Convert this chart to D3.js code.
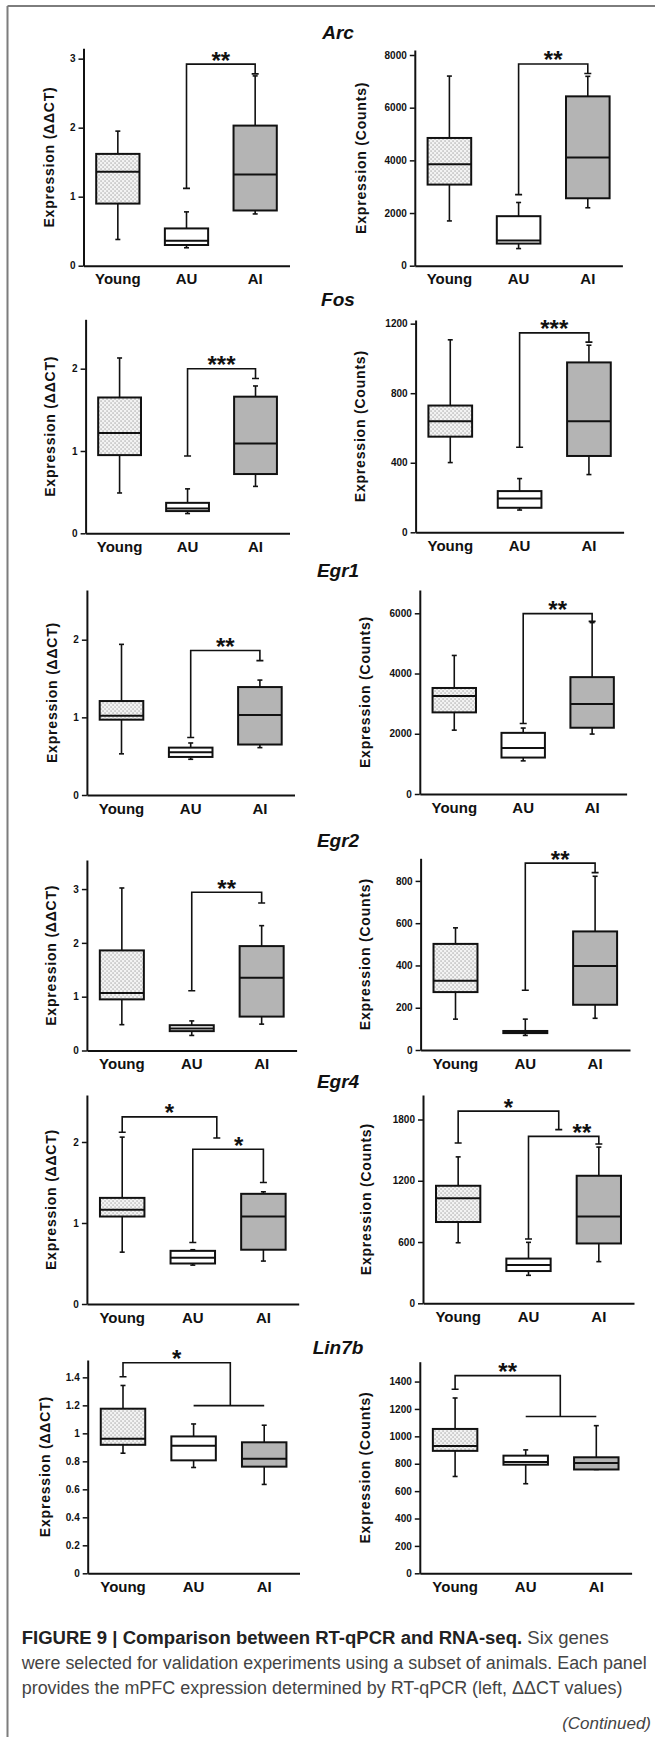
<!DOCTYPE html>
<html>
<head>
<meta charset="utf-8">

<!-- Load d3.js -->
<script src="https://d3js.org/d3.v7.min.js"></script>

<style>
body { margin: 0; background: #fff; }
text { font-family: "Liberation Sans", Arial, sans-serif; fill: #111; }
.tick text { font-size: 10px; font-weight: bold; }
.cat .tick text { font-size: 15px; }
</style>
</head>

<body>
<div id="fig"></div>
<script>

var groups = ["Young", "AU", "AI"];
var genes = ["Arc", "Fos", "Egr1", "Egr2", "Egr4", "Lin7b"];

// box values per group: [low whisker, q1, median, q3, high whisker]
var arcQpcr    = [[0.38, 0.90, 1.36, 1.62, 1.95], [0.26, 0.30, 0.36, 0.54, 0.78], [0.75, 0.80, 1.32, 2.03, 2.75]];
var arcCounts  = [[1700, 3080, 3850, 4850, 7200], [650, 840, 960, 1880, 2400], [2200, 2560, 4110, 6430, 7190]];
var fosQpcr    = [[0.49, 0.95, 1.22, 1.65, 2.13], [0.24, 0.27, 0.30, 0.37, 0.54], [0.57, 0.72, 1.09, 1.66, 1.79]];
var fosCounts  = [[401, 550, 639, 729, 1107], [128, 141, 195, 237, 309], [332, 439, 639, 977, 1076]];
var egr1Qpcr   = [[0.53, 0.97, 1.02, 1.21, 1.94], [0.46, 0.49, 0.55, 0.61, 0.67], [0.61, 0.65, 1.03, 1.39, 1.48]];
var egr1Counts = [[2120, 2710, 3255, 3520, 4600], [1100, 1210, 1530, 2030, 2190], [1990, 2200, 2990, 3880, 5690]];
var egr2Qpcr   = [[0.48, 0.95, 1.07, 1.86, 3.02], [0.28, 0.36, 0.41, 0.47, 0.55], [0.49, 0.63, 1.35, 1.94, 2.32]];
var egr2Counts = [[146, 274, 328, 502, 578], [69, 80, 85, 90, 146], [150, 214, 397, 561, 822]];
var egr4Qpcr   = [[0.64, 1.08, 1.165, 1.31, 2.06], [0.48, 0.50, 0.57, 0.656, 0.67], [0.53, 0.67, 1.08, 1.36, 1.385]];
var egr4Counts = [[593, 796, 1029, 1151, 1434], [274, 316, 376, 438, 597], [408, 586, 850, 1249, 1530]];
var lin7bQpcr  = [[0.858, 0.918, 0.962, 1.176, 1.342], [0.756, 0.807, 0.911, 0.978, 1.067], [0.635, 0.762, 0.818, 0.936, 1.058]];
var lin7bCounts= [[707, 894, 929, 1054, 1280], [654, 793, 812, 859, 901], [758, 758, 805, 847, 1078]];

// axis ticks and top of each axis
var qpcrTicks  = [[0, 1, 2, 3], [0, 1, 2], [0, 1, 2], [0, 1, 2, 3], [0, 1, 2], [0, 0.2, 0.4, 0.6, 0.8, 1, 1.2, 1.4]];
var countTicks = [[0, 2000, 4000, 6000, 8000], [0, 400, 800, 1200], [0, 2000, 4000, 6000], [0, 200, 400, 600, 800], [0, 600, 1200, 1800], [0, 200, 400, 600, 800, 1000, 1200, 1400]];
var qpcrMax  = [3.15, 2.6, 2.64, 3.54, 2.58, 1.524];
var countMax = [8190, 1221, 6773, 907, 2040, 1545];

// significance brackets (a, b = group index, ends and top in data units)
var arcQpcrSig   = [{a: 1, b: 2, top: 2.92, endA: 1.12, endB: 2.78, text: "**"}];
var arcCountSig  = [{a: 1, b: 2, top: 7660, endA: 2700, endB: 7300, text: "**"}];
var fosQpcrSig   = [{a: 1, b: 2, top: 2.0, endA: 0.94, endB: 1.88, text: "***"}];
var fosCountSig  = [{a: 1, b: 2, top: 1147, endA: 489, endB: 1094, text: "***"}];
var egr1QpcrSig  = [{a: 1, b: 2, top: 1.86, endA: 0.74, endB: 1.73, text: "**"}];
var egr1CountSig = [{a: 1, b: 2, top: 5990, endA: 2340, endB: 5730, text: "**"}];
var egr2QpcrSig  = [{a: 1, b: 2, top: 2.94, endA: 1.11, endB: 2.74, text: "**"}];
var egr2CountSig = [{a: 1, b: 2, top: 884, endA: 283, endB: 839, text: "**"}];
var egr4QpcrSig  = [{a: 0, b: 1.34, top: 2.31, endA: 2.12, endB: 2.05, text: "*"},
                    {a: 1, b: 2, top: 1.91, endA: 0.76, endB: 1.50, text: "*", at: 1.65}];
var egr4CountSig = [{a: 0, b: 1.43, top: 1882, endA: 1570, endB: 1701, text: "*"},
                    {a: 1, b: 2, top: 1635, endA: 630, endB: 1560, text: "**", at: 1.76}];
var lin7bQpcrSig  = [{a: 0, b: 1.52, top: 1.504, endA: 1.404, bar: 1.198, text: "*"}];
var lin7bCountSig = [{a: 0, b: 1.49, top: 1443, endA: 1344, bar: 1145, text: "**"}];

var qpcrBoxes  = [arcQpcr, fosQpcr, egr1Qpcr, egr2Qpcr, egr4Qpcr, lin7bQpcr];
var countBoxes = [arcCounts, fosCounts, egr1Counts, egr2Counts, egr4Counts, lin7bCounts];
var qpcrSig  = [arcQpcrSig, fosQpcrSig, egr1QpcrSig, egr2QpcrSig, egr4QpcrSig, lin7bQpcrSig];
var countSig = [arcCountSig, fosCountSig, egr1CountSig, egr2CountSig, egr4CountSig, lin7bCountSig];

var captionLines = [
  "were selected for validation experiments using a subset of animals. Each panel",
  "provides the mPFC expression determined by RT-qPCR (left, \u0394\u0394CT values)"
];

// panel frames on the page
var rows = [
  {title: 39,   left: {x0: 83.5, x1: 289.5, top: 48.3, bottom: 265.7, lab: 34.5}, right: {x0: 414.8, x1: 622.4, top: 50, bottom: 265.7, lab: 54}},
  {title: 306,  left: {x0: 85.6, x1: 289.5, top: 319.3, bottom: 533.3, lab: 36}, right: {x0: 415.6, x1: 623.6, top: 320, bottom: 532.3, lab: 55.5}},
  {title: 577,  left: {x0: 86.9, x1: 294.5, top: 590, bottom: 795, lab: 35}, right: {x0: 419.8, x1: 626.6, top: 590, bottom: 794, lab: 54.5}},
  {title: 846.7,left: {x0: 86.9, x1: 296.6, top: 860, bottom: 1050.5, lab: 36}, right: {x0: 420.6, x1: 630, top: 858.3, bottom: 1050, lab: 56}},
  {title: 1088, left: {x0: 86.9, x1: 298.7, top: 1095, bottom: 1304, lab: 36}, right: {x0: 423, x1: 634, top: 1095, bottom: 1303.3, lab: 57}},
  {title: 1354, left: {x0: 87.7, x1: 299.5, top: 1360, bottom: 1573.3, lab: 43}, right: {x0: 419.8, x1: 631.6, top: 1361.7, bottom: 1573.3, lab: 54.5}}
];

var fills = ["url(#dots)", "#ffffff", "#b4b4b4"];

var svg = d3.select("#fig")
  .append("svg")
    .attr("width", 655)
    .attr("height", 1737);

// stipple fill for Young
var pat = svg.append("defs").append("pattern")
  .attr("id", "dots")
  .attr("patternUnits", "userSpaceOnUse")
  .attr("width", 4)
  .attr("height", 4);
pat.append("rect").attr("width", 4).attr("height", 4).attr("fill", "#f3f3f3");
pat.append("rect").attr("x", 0.5).attr("y", 0.5).attr("width", 1.1).attr("height", 1.1).attr("fill", "#8a8a8a");
pat.append("rect").attr("x", 2.5).attr("y", 2.5).attr("width", 1.1).attr("height", 1.1).attr("fill", "#8a8a8a");

// page frame
svg.append("line").attr("x1", 7.5).attr("x2", 655).attr("y1", 6).attr("y2", 6)
  .attr("stroke", "#7d7d7d").attr("stroke-width", 2);
svg.append("line").attr("x1", 7.5).attr("x2", 7.5).attr("y1", 6).attr("y2", 1737)
  .attr("stroke", "#7d7d7d").attr("stroke-width", 2);

function drawPanel(box, ticks, ymax, sig, L, ylabel) {
  var g = svg.append("g");
  var x = d3.scaleBand().domain(groups).range([L.x0, L.x1]).paddingInner(0.37).paddingOuter(0.185);
  var xc = function(i) { return x(groups[0]) + x.bandwidth() / 2 + i * x.step(); };
  var y = d3.scaleLinear().domain([0, ymax]).range([L.bottom, L.top]);

  var ya = g.append("g")
    .attr("transform", "translate(" + L.x0 + ",0)")
    .call(d3.axisLeft(y).tickValues(ticks).tickSize(5).tickSizeOuter(0).tickPadding(3)
      .tickFormat(function(d) { return d; }));
  ya.select(".domain").attr("stroke-width", 2).attr("stroke", "#111");
  ya.selectAll(".tick line").attr("stroke-width", 1.5).attr("stroke", "#111");

  var xa = g.append("g")
    .attr("class", "cat")
    .attr("transform", "translate(0," + L.bottom + ")")
    .call(d3.axisBottom(x).tickSize(0).tickSizeOuter(0).tickPadding(8));
  xa.select(".domain").attr("stroke-width", 2).attr("stroke", "#111");

  g.append("text")
    .attr("transform", "rotate(-90)")
    .attr("x", -(L.top + L.bottom) / 2)
    .attr("y", L.x0 - L.lab)
    .attr("dy", "0.35em")
    .attr("text-anchor", "middle")
    .attr("font-size", "14px")
    .attr("font-weight", "bold")
    .attr("letter-spacing", "0.8px")
    .text(ylabel);

  var b = g.selectAll("g.box")
    .data(box)
    .enter().append("g")
    .attr("class", "box");

  b.append("line")
    .attr("x1", function(d, i) { return xc(i); })
    .attr("x2", function(d, i) { return xc(i); })
    .attr("y1", function(d) { return y(d[0]); })
    .attr("y2", function(d) { return y(d[4]); })
    .attr("stroke", "#111").attr("stroke-width", 1.6);
  [0, 4].forEach(function(k) {
    b.append("line")
      .attr("x1", function(d, i) { return xc(i) - 2.5; })
      .attr("x2", function(d, i) { return xc(i) + 2.5; })
      .attr("y1", function(d) { return y(d[k]); })
      .attr("y2", function(d) { return y(d[k]); })
      .attr("stroke", "#111").attr("stroke-width", 1.6);
  });
  b.append("rect")
    .attr("x", function(d, i) { return xc(i) - x.bandwidth() / 2; })
    .attr("y", function(d) { return y(d[3]); })
    .attr("width", x.bandwidth())
    .attr("height", function(d) { return Math.max(y(d[1]) - y(d[3]), 1); })
    .attr("fill", function(d, i) { return fills[i]; })
    .attr("stroke", "#111").attr("stroke-width", 2);
  b.append("line")
    .attr("x1", function(d, i) { return xc(i) - x.bandwidth() / 2; })
    .attr("x2", function(d, i) { return xc(i) + x.bandwidth() / 2; })
    .attr("y1", function(d) { return y(d[2]); })
    .attr("y2", function(d) { return y(d[2]); })
    .attr("stroke", "#111").attr("stroke-width", 2);

  // brackets
  sig.forEach(function(s) {
    var p = d3.path();
    p.moveTo(xc(s.a), y(s.endA));
    p.lineTo(xc(s.a), y(s.top));
    p.lineTo(xc(s.b), y(s.top));
    if (s.bar !== undefined) {
      p.lineTo(xc(s.b), y(s.bar));
      p.moveTo(xc(1), y(s.bar));
      p.lineTo(xc(2), y(s.bar));
    } else {
      p.lineTo(xc(s.b), y(s.endB));
      p.moveTo(xc(s.b) - 3.5, y(s.endB));
      p.lineTo(xc(s.b) + 3.5, y(s.endB));
    }
    p.moveTo(xc(s.a) - 3.5, y(s.endA));
    p.lineTo(xc(s.a) + 3.5, y(s.endA));
    g.append("path")
      .attr("d", p.toString())
      .attr("fill", "none")
      .attr("stroke", "#111")
      .attr("stroke-width", 1.6);
    var at = s.at !== undefined ? s.at : (s.a + s.b) / 2;
    g.append("text")
      .attr("x", xc(at))
      .attr("y", y(s.top) + 4.5)
      .attr("text-anchor", "middle")
      .attr("font-size", "24px")
      .attr("font-weight", "bold")
      .text(s.text);
  });
}

rows.forEach(function(r, i) {
  svg.append("text")
    .attr("x", 338)
    .attr("y", r.title)
    .attr("text-anchor", "middle")
    .attr("font-size", "19px")
    .attr("font-weight", "bold")
    .attr("font-style", "italic")
    .text(genes[i]);
  drawPanel(qpcrBoxes[i], qpcrTicks[i], qpcrMax[i], qpcrSig[i], r.left, "Expression (\u0394\u0394CT)");
  drawPanel(countBoxes[i], countTicks[i], countMax[i], countSig[i], r.right, "Expression (Counts)");
});

// caption
var cap = svg.append("text")
  .attr("x", 21.7).attr("y", 1644)
  .attr("font-size", "18px")
  .attr("textLength", 587)
  .attr("lengthAdjust", "spacingAndGlyphs");
cap.append("tspan").attr("font-weight", "bold").style("fill", "#222")
  .text("FIGURE 9 | Comparison between RT-qPCR and RNA-seq.");
cap.append("tspan").style("fill", "#444").text(" Six genes");

svg.selectAll("text.capline")
  .data(captionLines)
  .enter().append("text")
  .attr("class", "capline")
  .attr("x", 21.7)
  .attr("y", function(d, i) { return 1669.3 + i * 24.7; })
  .attr("font-size", "18px")
  .attr("textLength", function(d, i) { return i == 0 ? 625 : 600.7; })
  .attr("lengthAdjust", "spacingAndGlyphs")
  .style("fill", "#444")
  .text(function(d) { return d; });

svg.append("text")
  .attr("x", 651).attr("y", 1729)
  .attr("text-anchor", "end")
  .attr("font-size", "17px")
  .attr("font-style", "italic")
  .style("fill", "#444")
  .text("(Continued)");

</script>
</body>
</html>
